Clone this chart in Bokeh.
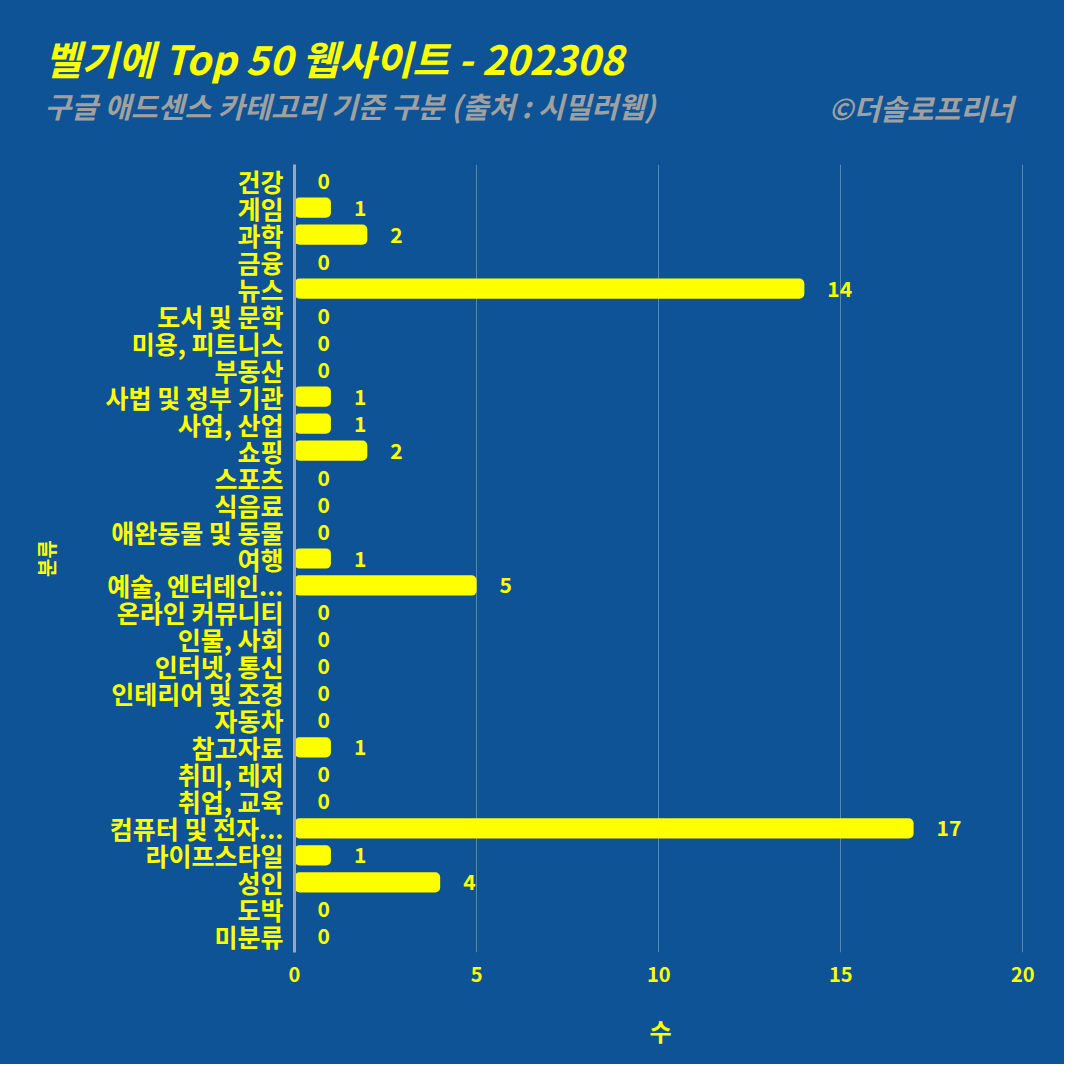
from bokeh.plotting import figure
from bokeh.models import FactorRange, Range1d, ColumnDataSource, FixedTicker, LabelSet, Title
from bokeh.core.properties import value
from bokeh.embed import file_html
from bokeh.resources import INLINE

title_text = "벨기에 Top 50 웹사이트 - 202308"
subtitle_text = "구글 애드센스 카테고리 기준 구분 (출처 : 시밀러웹)"
credit_text = "©더솔로프리너"

categories = ["건강", "게임", "과학", "금융", "뉴스", "도서 및 문학", "미용, 피트니스", "부동산",
              "사법 및 정부 기관", "사업, 산업", "쇼핑", "스포츠", "식음료", "애완동물 및 동물", "여행",
              "예술, 엔터테인...", "온라인 커뮤니티", "인물, 사회", "인터넷, 통신", "인테리어 및 조경",
              "자동차", "참고자료", "취미, 레저", "취업, 교육", "컴퓨터 및 전자...", "라이프스타일",
              "성인", "도박", "미분류"]
counts = [0, 1, 2, 0, 14, 0, 0, 0, 1, 1, 2, 0, 0, 0, 1, 5, 0, 0, 0, 0, 0, 1, 0, 0, 17, 1, 4, 0, 0]
x_ticks = [0, 5, 10, 15, 20]

BG = "#0E5395"
YEL = "#FFFF00"
GREY = "#A0A0A0"
FONT = "Noto Sans CJK KR"

src = ColumnDataSource(dict(cat=categories, val=counts, lab=[str(v) for v in counts]))

FL, FR, FT, FB = 294, 1026, 164, 952  # frame edges in canvas pixels

p = figure(width=1064, height=1064,
           y_range=FactorRange(factors=categories[::-1], range_padding=0.1, range_padding_units="absolute"),
           x_range=Range1d(0, 20.1),
           output_backend="svg", toolbar_location=None,
           min_border_left=FL, min_border_right=1064 - FR, min_border_top=FT, min_border_bottom=1064 - FB)

p.styles = {"background-color": BG}
p.background_fill_color = BG
p.border_fill_color = None
p.outline_line_color = None

p.hbar(y="cat", right="val", left=0, height=0.75, source=src,
       fill_color=YEL, line_color=None, border_radius=5)

labels = LabelSet(x="val", y="cat", text="lab", source=src, x_offset=23,
                  text_align="left", text_baseline="middle",
                  text_color=YEL, text_font=value(FONT), text_font_style="bold",
                  text_font_size="21px")
p.add_layout(labels)

p.xaxis.ticker = FixedTicker(ticks=x_ticks)
p.xgrid.ticker = FixedTicker(ticks=x_ticks)
p.xgrid.grid_line_color = "#FFFFFF"
p.xgrid.grid_line_alpha = 0.3
p.ygrid.grid_line_color = None

for ax in (p.xaxis, p.yaxis):
    ax.major_tick_line_color = None
    ax.minor_tick_line_color = None
    ax.major_tick_out = 0
    ax.major_tick_in = 0
    ax.major_label_text_color = YEL
    ax.major_label_text_font = FONT
    ax.major_label_text_font_style = "bold"
    ax.axis_label_text_color = YEL
    ax.axis_label_text_font = FONT
    ax.axis_label_text_font_style = "bold"

p.xaxis.axis_line_color = None
p.xaxis.major_label_text_font_size = "20px"
p.xaxis.major_label_standoff = 14
p.xaxis.axis_label = "수"
p.xaxis.axis_label_text_font_size = "24px"
p.xaxis.axis_label_standoff = 28

p.yaxis.axis_line_color = "#93A9C6"
p.yaxis.axis_line_width = 3
p.yaxis.major_label_text_font_size = "25px"
p.yaxis.major_label_standoff = 11
p.yaxis.axis_label = "분류"
p.yaxis.axis_label_text_font_size = "20px"
p.yaxis.axis_label_standoff = 41

# header rows, stacked outward from the frame: subtitle, credit (same row), title
p.add_layout(Title(text=subtitle_text, align="left", offset=44 - FL, standoff=78,
                   text_color=GREY, text_font=FONT, text_font_style="bold italic",
                   text_font_size="29px"), "above")
p.add_layout(Title(text=credit_text, align="right", offset=13, standoff=-170,
                   text_color=GREY, text_font=FONT, text_font_style="bold italic",
                   text_font_size="29px"), "above")
p.add_layout(Title(text=title_text, align="left", offset=44 - FL, standoff=-88,
                   text_color=YEL, text_font=FONT, text_font_style="bold italic",
                   text_font_size="40px"), "above")

open("out.html", "w").write(file_html(p, INLINE))
